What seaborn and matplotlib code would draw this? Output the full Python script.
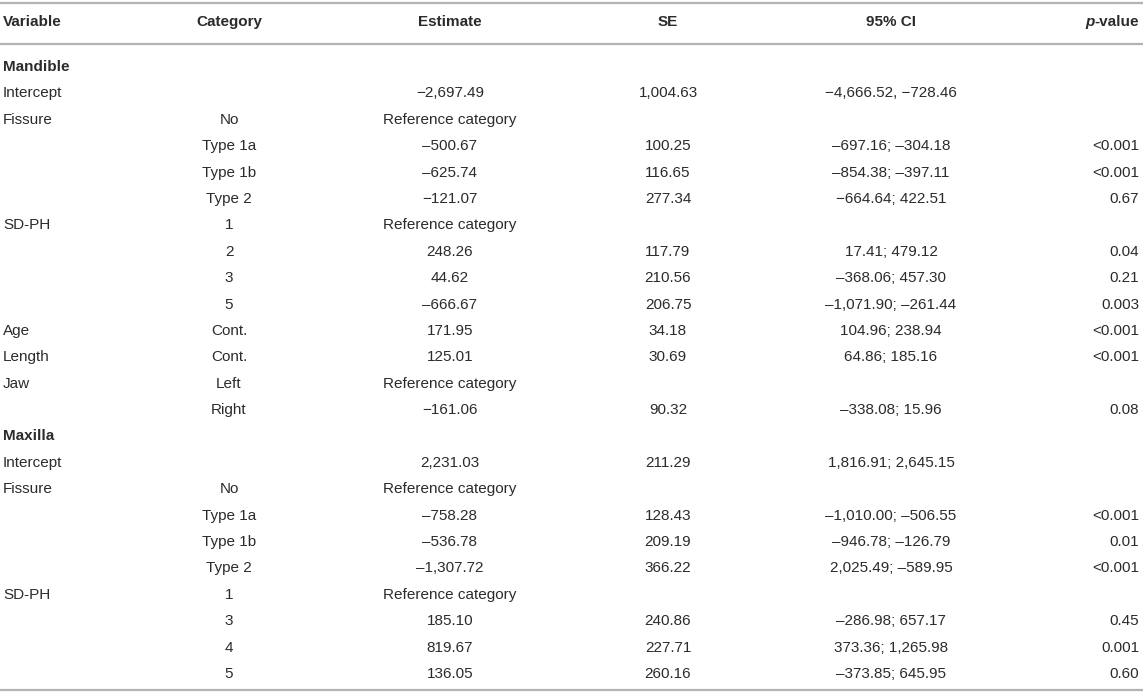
"""
Tabla de regresión: Mandible / Maxilla
"""

import matplotlib.pyplot as plt
import seaborn as sns
import numpy as np
import pandas as pd

# Datos de la tabla
variables = ['Mandible', 'Intercept', 'Fissure', '', '', '', 'SD-PH', '', '', '',
             'Age', 'Length', 'Jaw', '',
             'Maxilla', 'Intercept', 'Fissure', '', '', '', 'SD-PH', '', '', '']
categories = ['', '', 'No', 'Type 1a', 'Type 1b', 'Type 2', '1', '2', '3', '5',
              'Cont.', 'Cont.', 'Left', 'Right',
              '', '', 'No', 'Type 1a', 'Type 1b', 'Type 2', '1', '3', '4', '5']
estimates = ['', '−2,697.49', 'Reference category', '–500.67', '–625.74', '−121.07',
             'Reference category', '248.26', '44.62', '–666.67', '171.95', '125.01',
             'Reference category', '−161.06',
             '', '2,231.03', 'Reference category', '–758.28', '–536.78', '–1,307.72',
             'Reference category', '185.10', '819.67', '136.05']
std_errors = ['', '1,004.63', '', '100.25', '116.65', '277.34', '', '117.79', '210.56',
              '206.75', '34.18', '30.69', '', '90.32',
              '', '211.29', '', '128.43', '209.19', '366.22', '', '240.86', '227.71',
              '260.16']
conf_ints = ['', '−4,666.52, −728.46', '', '–697.16; –304.18', '–854.38; –397.11',
             '−664.64; 422.51', '', '17.41; 479.12', '–368.06; 457.30',
             '–1,071.90; –261.44', '104.96; 238.94', '64.86; 185.16', '',
             '–338.08; 15.96',
             '', '1,816.91; 2,645.15', '', '–1,010.00; –506.55', '–946.78; –126.79',
             '2,025.49; –589.95', '', '–286.98; 657.17', '373.36; 1,265.98',
             '–373.85; 645.95']
p_values = ['', '', '', '<0.001', '<0.001', '0.67', '', '0.04', '0.21', '0.003',
            '<0.001', '<0.001', '', '0.08',
            '', '', '', '<0.001', '0.01', '<0.001', '', '0.45', '0.001', '0.60']
section_rows = ['Mandible', 'Maxilla']

headers = ['Variable', 'Category', 'Estimate', 'SE', '95% CI', '-value']

df = pd.DataFrame({
    'Variable': variables,
    'Category': categories,
    'Estimate': estimates,
    'SE': std_errors,
    '95% CI': conf_ints,
    'p': p_values,
})

sns.set_theme(style='white')
plt.rcParams['font.family'] = ['Liberation Sans', 'DejaVu Sans']

W, H = 1143, 698
fig = plt.figure(figsize=(W / 100, H / 100), dpi=100)
ax = fig.add_axes([0, 0, 1, 1])
ax.set_xlim(0, W)
ax.set_ylim(H, 0)
ax.axis('off')

text_color = '#2b2b2b'
rule_color = '#b3b3b3'
fs = 11

# Posiciones de las columnas (x, alineación)
col_x = [3, 229, 450, 668, 891, 1139]
col_ha = ['left', 'center', 'center', 'center', 'center', 'right']

header_y = 22
first_row_y = 67
row_h = 26.39

# Reglas horizontales
for y in [3, 44, 690]:
    ax.axhline(y, color=rule_color, lw=1.6)

# Encabezado
header_texts = []
for x, ha, h in zip(col_x, col_ha, headers):
    t = ax.text(x, header_y, h, ha=ha, va='center', fontsize=fs,
                fontweight='bold', color=text_color)
    header_texts.append(t)
ax.annotate('p', xy=(0, 0), xycoords=header_texts[-1], ha='right', va='bottom',
            fontsize=fs, fontweight='bold', fontstyle='italic', color=text_color)

# Filas
for i, row in df.iterrows():
    y = first_row_y + i * row_h
    values = row.tolist()
    bold = row['Variable'] in section_rows
    for x, ha, v in zip(col_x, col_ha, values):
        if v == '':
            continue
        ax.text(x, y, v, ha=ha, va='center', fontsize=fs, color=text_color,
                fontweight='bold' if bold else 'normal')

fig.savefig('out.png', dpi=100)
